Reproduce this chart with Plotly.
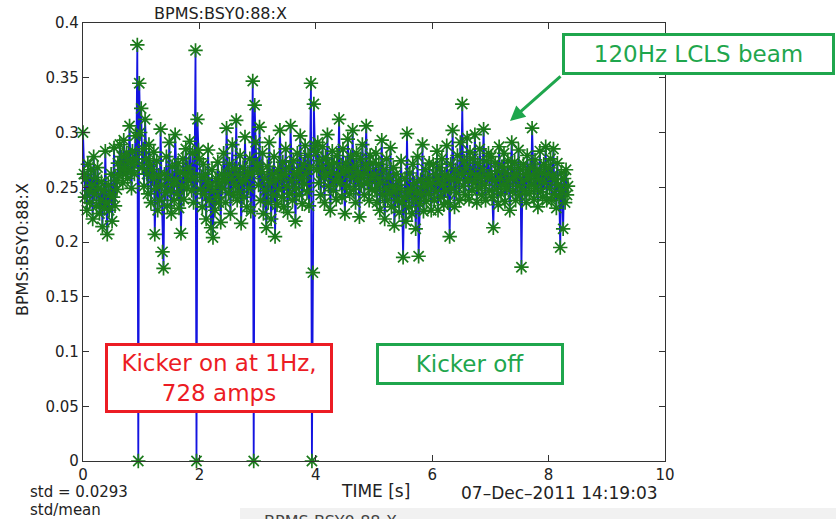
import numpy as np
import plotly.graph_objects as go

# BPMS:BSY0:88:X position readings, one list per second of acquisition
sec0 = [0.300, 0.262, 0.241, 0.258, 0.229, 0.271, 0.247, 0.236, 0.266, 0.252,
        0.221, 0.278, 0.244, 0.259, 0.233, 0.268, 0.249, 0.226,
        0.238, 0.255, 0.214, 0.247, 0.231, 0.283, 0.236, 0.207, 0.252, 0.229,
        0.244, 0.262, 0.219, 0.241, 0.286, 0.233, 0.256, 0.248,
        0.272, 0.261, 0.289, 0.266, 0.278, 0.254, 0.293, 0.269, 0.262, 0.281,
        0.258, 0.274, 0.306, 0.265, 0.249, 0.283, 0.271, 0.262, 0.297, 0.276,
        0.380, 0.000, 0.345, 0.300]
sec1 = [0.322, 0.268, 0.285, 0.251, 0.312, 0.276, 0.262, 0.244, 0.289, 0.271,
        0.236, 0.266, 0.258, 0.282, 0.207, 0.249, 0.274, 0.229, 0.261, 0.238,
        0.303, 0.252, 0.191, 0.176,
        0.262, 0.245, 0.278, 0.233, 0.258, 0.291, 0.247, 0.226, 0.269, 0.253,
        0.238, 0.298, 0.257, 0.244, 0.272, 0.231, 0.264, 0.208, 0.251, 0.276,
        0.239, 0.262, 0.285, 0.249, 0.268, 0.256, 0.292, 0.263,
        0.247, 0.281, 0.236, 0.259,
        0.375, 0.000, 0.312, 0.284]
sec2 = [0.276, 0.248, 0.259, 0.232, 0.271, 0.244, 0.262, 0.221, 0.255, 0.284,
        0.238, 0.251, 0.213, 0.266, 0.204, 0.247, 0.229, 0.258, 0.241, 0.273,
        0.236, 0.254, 0.218, 0.262,
        0.249, 0.281, 0.257, 0.236, 0.304, 0.262, 0.245, 0.271, 0.226, 0.258,
        0.289, 0.243, 0.267, 0.252, 0.311, 0.238, 0.261, 0.246, 0.279, 0.217,
        0.255, 0.268, 0.241, 0.296, 0.258, 0.232, 0.264,
        0.249, 0.276, 0.228, 0.262,
        0.347, 0.000, 0.325, 0.291, 0.268]
sec3 = [0.271, 0.252, 0.305, 0.238, 0.264, 0.281, 0.226, 0.258, 0.247, 0.213,
        0.269, 0.236, 0.291, 0.254, 0.221, 0.262, 0.243, 0.278, 0.205, 0.257,
        0.234, 0.266, 0.248, 0.302,
        0.259, 0.241, 0.273, 0.232, 0.262, 0.285, 0.251, 0.227, 0.268, 0.244,
        0.306, 0.256, 0.238, 0.274, 0.262, 0.219, 0.249, 0.281, 0.265, 0.243,
        0.297, 0.258, 0.235, 0.271, 0.253, 0.288, 0.262,
        0.246, 0.279, 0.233, 0.268,
        0.345, 0.000, 0.172, 0.326, 0.288]
sec4 = [0.282, 0.266, 0.291, 0.254, 0.274, 0.243, 0.268, 0.287, 0.259, 0.236,
        0.277, 0.262, 0.298, 0.251, 0.271, 0.229, 0.264, 0.283, 0.247, 0.272,
        0.256, 0.239, 0.279, 0.261,
        0.312, 0.254, 0.268, 0.241, 0.285, 0.263, 0.226, 0.272, 0.251, 0.294,
        0.266, 0.244, 0.278, 0.259, 0.302, 0.248, 0.269, 0.236, 0.281, 0.257,
        0.264, 0.223, 0.276, 0.252, 0.289, 0.261, 0.243, 0.271, 0.306, 0.254,
        0.267, 0.238, 0.279, 0.258, 0.248, 0.272]
sec5 = [0.262, 0.247, 0.281, 0.236, 0.258, 0.271, 0.229, 0.254, 0.293, 0.243,
        0.266, 0.221, 0.249, 0.276, 0.238, 0.259, 0.244, 0.286, 0.232, 0.251,
        0.268, 0.215, 0.247, 0.262,
        0.238, 0.256, 0.227, 0.249, 0.274, 0.236, 0.186, 0.241, 0.258, 0.219,
        0.299, 0.245, 0.232, 0.263, 0.248, 0.226, 0.271, 0.239, 0.254, 0.212,
        0.246, 0.278, 0.187, 0.235, 0.257, 0.243, 0.289, 0.228, 0.251, 0.266,
        0.237, 0.258, 0.244, 0.272, 0.253, 0.229]
sec6 = [0.254, 0.271, 0.238, 0.262, 0.246, 0.283, 0.229, 0.257, 0.268, 0.241,
        0.276, 0.252, 0.234, 0.261, 0.247, 0.288, 0.236, 0.259, 0.205, 0.271,
        0.249, 0.302, 0.258, 0.232,
        0.266, 0.245, 0.279, 0.256, 0.238, 0.291, 0.262, 0.326, 0.251, 0.274,
        0.243, 0.268, 0.295, 0.257, 0.239, 0.282, 0.263, 0.247, 0.276, 0.254,
        0.298, 0.261, 0.236, 0.272, 0.249, 0.285, 0.258, 0.243, 0.266, 0.303,
        0.252, 0.238, 0.274, 0.259, 0.281, 0.247]
sec7 = [0.262, 0.278, 0.241, 0.213, 0.256, 0.272, 0.248, 0.265, 0.234, 0.287,
        0.258, 0.244, 0.269, 0.252, 0.281, 0.237, 0.263, 0.249, 0.274, 0.256,
        0.229, 0.268, 0.291, 0.246,
        0.259, 0.273, 0.238, 0.262, 0.251, 0.284, 0.243, 0.266, 0.177, 0.255,
        0.271, 0.247, 0.262, 0.236, 0.279, 0.258, 0.244, 0.268, 0.252, 0.304,
        0.261, 0.239, 0.275, 0.249, 0.266, 0.232, 0.257, 0.283, 0.246, 0.263,
        0.241, 0.271, 0.254, 0.287, 0.238, 0.262]
sec8 = [0.268, 0.249, 0.276, 0.238, 0.261, 0.285, 0.244, 0.257, 0.231, 0.272,
        0.252, 0.241, 0.195, 0.263, 0.247, 0.212, 0.258, 0.236, 0.266, 0.243,
        0.251]

sample_rate_hz = 60
x_ticks = [0, 2, 4, 6, 8, 10]
y_ticks = [0, 0.05, 0.1, 0.15, 0.2, 0.25, 0.3, 0.35, 0.4]
y_tick_text = ["0", "0.05", "0.1", "0.15", "0.2", "0.25", "0.3", "0.35", "0.4"]

bpm_x = np.array(sec0 + sec1 + sec2 + sec3 + sec4 + sec5 + sec6 + sec7 + sec8)
t = np.arange(bpm_x.size) / sample_rate_hz

# figure geometry (pixels)
W, H = 836, 519
L, R, T, B = 83, 665, 23, 461


def px(x):
    return (x - L) / (R - L)


def py(y):
    return (B - y) / (B - T)


FONT = "DejaVu Sans"
AX = "#333333"
GREEN = "#1fa64d"
RED = "#ec1c24"

fig = go.Figure()
fig.add_trace(go.Scatter(
    x=t, y=bpm_x, mode="lines+markers",
    line=dict(color="#1414e0", width=1.8),
    marker=dict(symbol="asterisk-open", size=12, color="#1b7a1b",
                line=dict(color="#1b7a1b", width=1.7)),
    cliponaxis=False, showlegend=False, hoverinfo="skip",
))

axis_common = dict(showline=True, linecolor=AX, linewidth=1.2, mirror="ticks",
                   ticks="inside", ticklen=6, tickcolor=AX, tickwidth=1.2,
                   showgrid=False, zeroline=False,
                   tickfont=dict(family=FONT, size=15, color="#222222"))

fig.update_xaxes(range=[0, 10], tickvals=x_ticks, **axis_common)
fig.update_yaxes(range=[0, 0.4], tickvals=y_ticks, ticktext=y_tick_text, **axis_common)


def label(x, y, text, size=16, xanchor="center", yanchor="middle", color="#222222", angle=0):
    return dict(x=px(x), y=py(y), xref="paper", yref="paper", text=text,
                showarrow=False, xanchor=xanchor, yanchor=yanchor, textangle=angle,
                font=dict(family=FONT, size=size, color=color))


def box(x, y, text, w, h, color):
    return dict(x=px(x), y=py(y), xref="paper", yref="paper", text=text,
                showarrow=False, xanchor="center", yanchor="middle",
                width=w, height=h, align="center", valign="middle",
                bgcolor="white", bordercolor=color, borderwidth=3, borderpad=2,
                font=dict(family=FONT, size=23, color=color))


annotations = [
    label(220, 14, "BPMS:BSY0:88:X", size=16),
    label(22, 250, "BPMS:BSY0:88:X", size=16, angle=-90),
    label(375, 491, "TIME [s]", size=17),
    label(559, 493, "07\u2013Dec\u20132011 14:19:03", size=17),
    label(28, 492, "std = 0.0293", size=15, xanchor="left"),
    label(28, 510, "std/mean", size=15, xanchor="left"),
    label(330, 510, "BPMS:BSY0:88:X", size=16, yanchor="top", color="#444444"),
    box(698, 54, "120Hz LCLS beam", 263, 32, GREEN),
    box(219, 378, "Kicker on at 1Hz,<br>728 amps", 218, 60, RED),
    box(470, 364, "Kicker off", 178, 32, GREEN),
    dict(x=px(510), y=py(121), xref="paper", yref="paper", text="",
         showarrow=True, ax=52, ay=-46, arrowhead=2, arrowsize=1.0,
         arrowwidth=3, arrowcolor=GREEN, standoff=0, startstandoff=0),
]

fig.update_layout(
    width=W, height=H, autosize=False,
    margin=dict(l=L, r=W - R, t=T, b=H - B, pad=0),
    paper_bgcolor="white", plot_bgcolor="white",
    annotations=annotations,
    shapes=[dict(type="rect", xref="paper", yref="paper",
                 x0=px(240), x1=px(W), y0=py(H), y1=py(508),
                 fillcolor="#f1f1f1", line=dict(width=0), layer="below")],
)

fig.write_html("out.html")
